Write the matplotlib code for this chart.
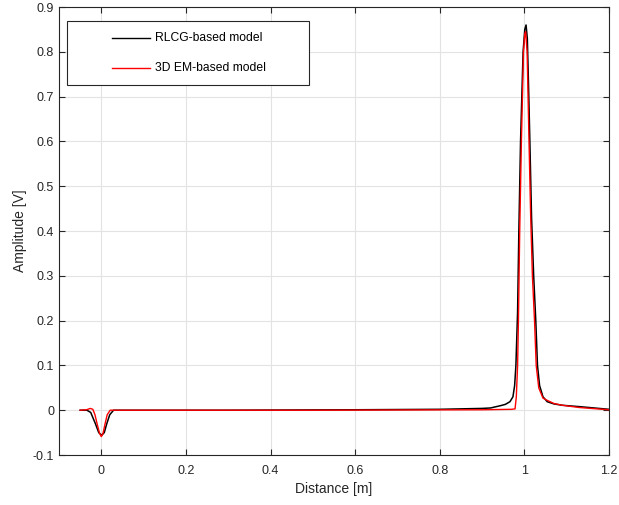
import numpy as np
import matplotlib.pyplot as plt
from matplotlib.patches import Rectangle

plt.rcParams['font.family'] = ['Liberation Sans', 'DejaVu Sans']

# RLCG-based model (black)
x_rlcg = [-0.05, -0.034, -0.025, -0.014, -0.006, 0.001, 0.007, 0.013, 0.02, 0.029, 0.05,
          0.3, 0.6, 0.8, 0.9, 0.92, 0.943, 0.955, 0.966, 0.973, 0.977, 0.98, 0.984, 0.987,
          0.991, 0.997, 1.001, 1.004, 1.007, 1.01, 1.013, 1.017, 1.022, 1.027, 1.031, 1.036,
          1.044, 1.054, 1.07, 1.09, 1.13, 1.2]
y_rlcg = [0, 0, -0.005, -0.03, -0.05, -0.056, -0.05, -0.03, -0.01, 0, 0,
          0, 0.001, 0.002, 0.004, 0.005, 0.01, 0.013, 0.019, 0.03, 0.055, 0.1, 0.22, 0.4,
          0.6, 0.8, 0.85, 0.86, 0.83, 0.72, 0.6, 0.43, 0.3, 0.2, 0.1, 0.055,
          0.03, 0.019, 0.014, 0.011, 0.008, 0.002]

# 3D EM-based model (red)
x_em = [-0.05, -0.035, -0.026, -0.02, -0.015, -0.01, -0.004, 0.0, 0.004, 0.009, 0.014, 0.021, 0.05,
        0.5, 0.9, 0.97, 0.978, 0.981, 0.984, 0.986, 0.989, 0.993, 0.998, 1.001, 1.003, 1.0065,
        1.011, 1.015, 1.019, 1.024, 1.028, 1.034, 1.044, 1.054, 1.07, 1.09, 1.13, 1.2]
y_em = [0, 0.001, 0.004, 0.002, -0.01, -0.03, -0.052, -0.059, -0.052, -0.03, -0.01, 0, 0,
        0, 0.001, 0.002, 0.003, 0.03, 0.1, 0.2, 0.4, 0.6, 0.8, 0.84, 0.845, 0.8,
        0.6, 0.43, 0.3, 0.2, 0.1, 0.05, 0.027, 0.022, 0.015, 0.011, 0.006, 0.001]

labels = ['RLCG-based model', '3D EM-based model']
colors = ['black', 'red']

fig = plt.figure(figsize=(6.19, 5.05), dpi=100)
ax = fig.add_axes([0.0953, 0.099, 0.8885, 0.887])

ax.plot(x_rlcg, y_rlcg, color=colors[0], lw=1.1)
ax.plot(x_em, y_em, color=colors[1], lw=1.0)

ax.set_xlim(-0.1, 1.2)
ax.set_ylim(-0.1, 0.9)
ax.set_xticks(np.arange(0, 1.21, 0.2))
ax.set_xticklabels(['0', '0.2', '0.4', '0.6', '0.8', '1', '1.2'])
ax.set_yticks(np.arange(-0.1, 0.91, 0.1))
ax.set_yticklabels(['-0.1', '0', '0.1', '0.2', '0.3', '0.4', '0.5', '0.6', '0.7', '0.8', '0.9'])
ax.grid(True, color='#e3e3e3', lw=0.8)
ax.set_axisbelow(True)
ax.tick_params(direction='in', labelsize=9, top=True, right=True, length=4,
               color='#262626', labelcolor='#262626')
ax.tick_params(axis='x', pad=7)
for s in ax.spines.values():
    s.set_color('#262626')
    s.set_linewidth(0.8)

ax.set_xlabel('Distance [m]', fontsize=10, color='#262626')
ax.set_ylabel('Amplitude [V]', fontsize=10, color='#262626')

# MATLAB-style legend box
ax.add_patch(Rectangle((0.0145, 0.826), 0.44, 0.1428, transform=ax.transAxes,
                       facecolor='white', edgecolor='#262626', lw=0.8, zorder=5))
for i, (lab, c) in enumerate(zip(labels, colors)):
    yy = 0.9308 - i * 0.067
    ax.plot([0.0964, 0.1655], [yy, yy], color=c, lw=1.0, transform=ax.transAxes, zorder=6)
    ax.text(0.1745, yy, lab, transform=ax.transAxes, fontsize=8.7, va='center',
            ha='left', color='black', zorder=6)

plt.savefig('out.png', dpi=100)
